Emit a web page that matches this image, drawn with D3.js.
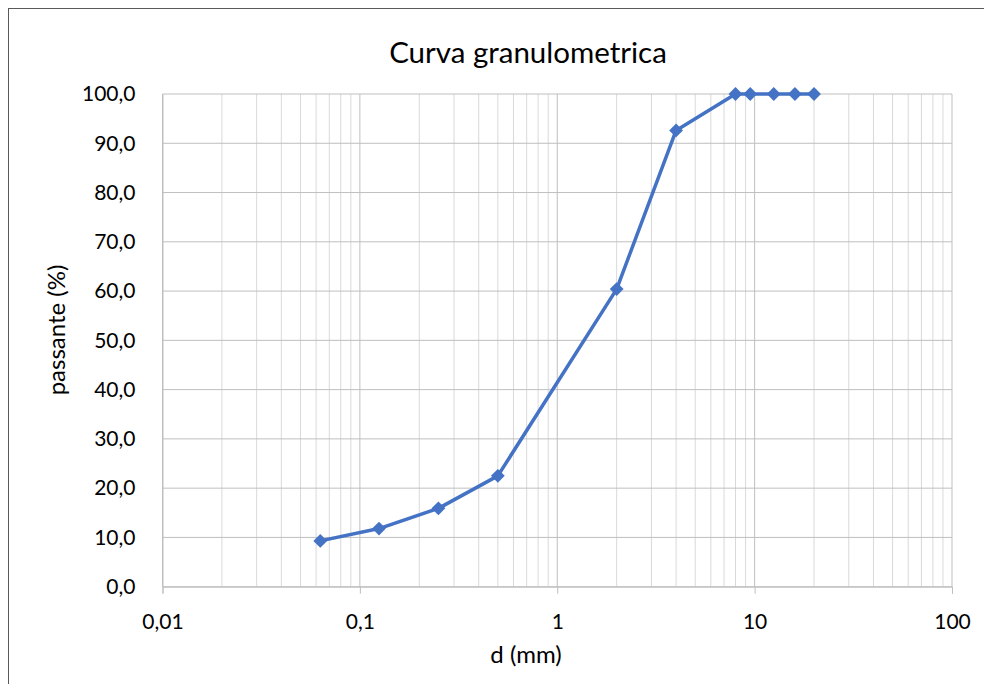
<!DOCTYPE html>
<html><head><meta charset="utf-8">
<script src="https://cdn.jsdelivr.net/npm/d3@7"></script>
<style>body{margin:0;background:#fff}svg{display:block}text{font-family:Lato,"Open Sans",sans-serif;fill:#000}</style>
</head><body><svg id="c" width="984" height="684"></svg>
<script>
const diameters = [0.063, 0.125, 0.25, 0.5, 2, 4, 8, 9.5, 12.5, 16, 20];
const passing = [9.3, 11.8, 15.9, 22.5, 60.4, 92.6, 100, 100, 100, 100, 100];
const xTicks = [0.01, 0.1, 1, 10, 100];
const xTickLabels = ["0,01", "0,1", "1", "10", "100"];
const yTicks = [0, 10, 20, 30, 40, 50, 60, 70, 80, 90, 100];

const svg = d3.select("#c");
const L = 162.5, R = 952, T = 94, B = 586.7;
svg.append("rect").attr("x", 8.5).attr("y", 8.5).attr("width", 990).attr("height", 690)
  .attr("fill", "#fff").attr("stroke", "#595959").attr("stroke-width", 1);

const x = d3.scaleLog().domain([0.01, 100]).range([L, R]);
const y = d3.scaleLinear().domain([0, 100]).range([B, T]);

// minor grid
const minor = [];
for (let e = -2; e < 2; e++) for (let m = 2; m <= 9; m++) minor.push(m * Math.pow(10, e));
svg.append("g").selectAll("line").data(minor).join("line")
  .attr("x1", d => x(d)).attr("x2", d => x(d)).attr("y1", T).attr("y2", B)
  .attr("stroke", "#d9d9d9").attr("stroke-width", 1);
// major grid
svg.append("g").selectAll("line").data(xTicks).join("line")
  .attr("x1", d => x(d)).attr("x2", d => x(d)).attr("y1", T).attr("y2", B)
  .attr("stroke", "#bfbfbf").attr("stroke-width", 1);
svg.append("g").selectAll("line").data(yTicks).join("line")
  .attr("x1", L).attr("x2", R).attr("y1", d => y(d)).attr("y2", d => y(d))
  .attr("stroke", "#bfbfbf").attr("stroke-width", 1);

// axes
const xAxis = svg.append("g").attr("transform", `translate(0,${B})`)
  .call(d3.axisBottom(x).tickValues(xTicks).tickFormat((d, i) => xTickLabels[i]).tickSize(7).tickPadding(20));
xAxis.select(".domain").attr("stroke", "#bfbfbf");
xAxis.selectAll(".tick line").attr("stroke", "#bfbfbf");
xAxis.selectAll("text").attr("font-size", 21).attr("font-family", "Lato");
const yAxis = svg.append("g").attr("transform", `translate(${L},0)`)
  .call(d3.axisLeft(y).tickValues(yTicks).tickFormat(d => d3.format(".1f")(d).replace(".", ",")).tickSize(0).tickPadding(27));
yAxis.select(".domain").attr("stroke", "#bfbfbf");
yAxis.selectAll("text").attr("font-size", 21).attr("font-family", "Lato");

// line & markers
const line = d3.line().x((d, i) => x(diameters[i])).y(d => y(d));
svg.append("path").datum(passing).attr("d", line).attr("fill", "none")
  .attr("stroke", "#4472c4").attr("stroke-width", 3.5).attr("stroke-linejoin", "round");
svg.append("g").selectAll("path").data(passing).join("path")
  .attr("d", d3.symbol(d3.symbolSquare, 95))
  .attr("transform", (d, i) => `translate(${x(diameters[i])},${y(d)}) rotate(45)`)
  .attr("fill", "#4472c4");

svg.append("text").attr("x", 528).attr("y", 63).attr("text-anchor", "middle")
  .attr("font-size", 29.5).text("Curva granulometrica");
svg.append("text").attr("x", 526).attr("y", 663).attr("text-anchor", "middle")
  .attr("font-size", 24).text("d (mm)");
svg.append("text").attr("transform", "translate(65,330) rotate(-90)").attr("text-anchor", "middle")
  .attr("font-size", 24).text("passante (%)");
</script></body></html>
